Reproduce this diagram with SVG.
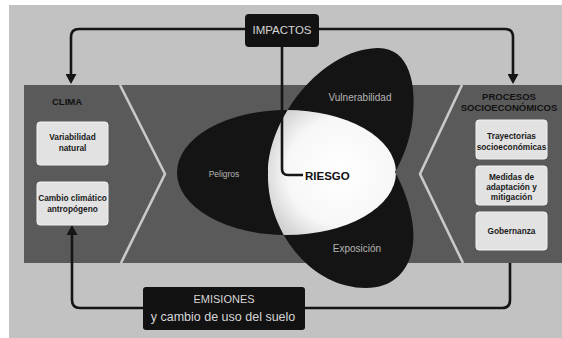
<svg xmlns="http://www.w3.org/2000/svg" xmlns:xlink="http://www.w3.org/1999/xlink" width="562" height="338" viewBox="0 0 562 338">
<style>
.box{fill:#e2e2e2;stroke:#f2f2f2;stroke-width:1}
.boxtxt{font-family:"Liberation Sans",Arial,sans-serif;font-weight:bold;font-size:8.3px;fill:#1a1a1a;text-anchor:middle}
.head{font-family:"Liberation Sans",Arial,sans-serif;font-weight:bold;font-size:9.5px;fill:#111}
.petal{fill:#141414}
.ptxt{font-family:"Liberation Sans",Arial,sans-serif;fill:#b4b4b4;text-anchor:middle}
.conn{fill:none;stroke:#151515;stroke-width:2.6}
.chev{fill:none;stroke:#c9c9c9;stroke-width:2.6;stroke-linejoin:round}
.dark{fill:#121212}
.lt{font-family:"Liberation Sans",Arial,sans-serif;fill:#d6d6d6;text-anchor:middle}
</style>
<defs>
<path id="pV" d="M268,172 C268,120 320,50 377,48 C410,47 416,85 413,115 C411,140 402,160 395,172 C370,200 290,200 268,172 Z"/>
<path id="pE" d="M268,172 C266,230 310,288 366,288 C403,288 416,257 413,228 C411,205 402,185 395,172 C370,145 290,145 268,172 Z"/>
<clipPath id="cVE">
<use xlink:href="#pV"/>
<use xlink:href="#pE"/>
</clipPath>
<radialGradient id="gW" cx="340" cy="172" r="82" gradientUnits="userSpaceOnUse">
<stop offset="0" stop-color="#ffffff"/>
<stop offset="0.65" stop-color="#f7f7f7"/>
<stop offset="1" stop-color="#cfcfcf"/>
</radialGradient>
<marker id="ah" markerUnits="userSpaceOnUse" markerWidth="10" markerHeight="11" refX="0" refY="5.5" orient="auto" viewBox="0 0 10 11">
<path d="M0,0 L10,5.5 L0,11 Z" fill="#151515"/>
</marker>
</defs>

<rect x="0" y="0" width="562" height="338" fill="#ffffff"/>
<rect x="9" y="5" width="553" height="333" fill="#c2c2c2"/>

<g id="banda">
<rect x="24" y="85" width="538" height="178" fill="#5a5a5a"/>
<polyline class="chev" points="120,85 165,174 121,263"/>
<polyline class="chev" points="462,85 420,174 463,263"/>
</g>

<g id="peligros">
<ellipse class="petal" cx="286.5" cy="172.5" rx="109.5" ry="62.5"/>
<text class="ptxt" x="224" y="177" font-size="8.5">Peligros</text>
</g>
<g id="vulnerabilidad">
<use xlink:href="#pV" class="petal"/>
<text class="ptxt" x="360" y="101" font-size="10">Vulnerabilidad</text>
</g>
<g id="exposicion">
<use xlink:href="#pE" class="petal"/>
<text class="ptxt" x="357" y="252" font-size="10">Exposición</text>
</g>
<g id="riesgo">
<ellipse cx="286.5" cy="172.5" rx="109.5" ry="62.5" fill="url(#gW)" clip-path="url(#cVE)"/>
</g>

<g id="conectores">
<path class="conn" d="M245,29 H79 Q71,29 71,37 V74" marker-end="url(#ah)"/>
<path class="conn" d="M319,29 H505 Q513,29 513,37 V74" marker-end="url(#ah)"/>
<path class="conn" d="M282,47 V169 Q282,175 288,175 H303"/>
<path class="conn" d="M143,308 H80 Q72,308 72,300 V235" marker-end="url(#ah)"/>
<path class="conn" d="M305,308 H502 Q510,308 510,300 V263"/>
</g>

<text x="305" y="180" font-family="Liberation Sans, Arial, sans-serif" font-weight="bold" font-size="11.5" fill="#111">RIESGO</text>

<g id="impactos">
<rect class="dark" x="245" y="14" width="74" height="33" rx="4"/>
<text class="lt" x="282" y="34" font-size="11.5">IMPACTOS</text>
</g>

<g id="emisiones">
<rect class="dark" x="143" y="287" width="162" height="43" rx="3"/>
<text class="lt" x="224" y="303" font-size="11">EMISIONES</text>
<text class="lt" x="223" y="321" font-size="12.5">y cambio de uso del suelo</text>
</g>

<g id="clima">
<text class="head" x="52" y="105">CLIMA</text>
</g>
<g id="variabilidad">
<rect class="box" x="37" y="122" width="71" height="43" rx="3"/>
<text class="boxtxt" x="72.5" y="140">Variabilidad</text>
<text class="boxtxt" x="72.5" y="151">natural</text>
</g>
<g id="cambio">
<rect class="box" x="37" y="182" width="71" height="43" rx="3"/>
<text class="boxtxt" x="72.5" y="201">Cambio climático</text>
<text class="boxtxt" x="72.5" y="212">antropógeno</text>
</g>

<g id="procesos">
<text class="head" x="509" y="100" text-anchor="middle">PROCESOS</text>
<text class="head" x="509" y="111" text-anchor="middle">SOCIOECONÓMICOS</text>
</g>
<g id="trayectorias">
<rect class="box" x="476" y="120" width="71" height="39" rx="3"/>
<text class="boxtxt" x="511.5" y="139">Trayectorias</text>
<text class="boxtxt" x="511.5" y="150">socioeconómicas</text>
</g>
<g id="medidas">
<rect class="box" x="476" y="166" width="71" height="39" rx="3"/>
<text class="boxtxt" x="511.5" y="180">Medidas de</text>
<text class="boxtxt" x="511.5" y="190">adaptación y</text>
<text class="boxtxt" x="511.5" y="200">mitigación</text>
</g>
<g id="gobernanza">
<rect class="box" x="476" y="212" width="71" height="38" rx="3"/>
<text class="boxtxt" x="511.5" y="234">Gobernanza</text>
</g>
</svg>
